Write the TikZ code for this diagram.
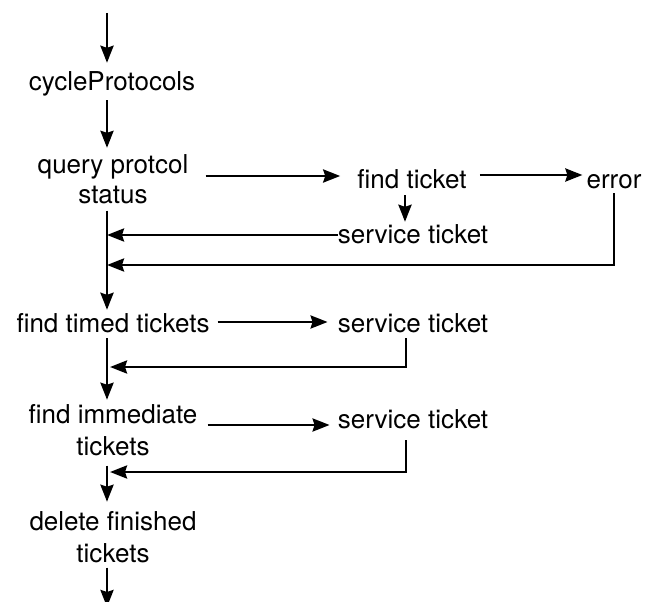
\documentclass[tikz,border=0pt]{standalone}
\usepackage{fontspec}
\setmainfont{TeX Gyre Heros}
\usetikzlibrary{arrows.meta}
\begin{document}
\begin{tikzpicture}[x=1pt,y=-1pt,
  lbl/.style={font=\fontsize{26}{32}\selectfont, inner sep=0pt, text height=19pt, text depth=5pt},
  mlbl/.style={font=\fontsize{26}{32}\selectfont, inner sep=0pt, align=center, anchor=base},
  link/.style={line width=2.8pt, line join=miter},
  arr/.style={link, -{Stealth[length=17pt,width=13pt,inset=2pt]}}]
\useasboundingbox (0,0) rectangle (646,602);

% free ends of the main column
\coordinate (in) at (107,13);
\coordinate (out) at (107,607);

% labels (single-line ones centred 7pt above their baseline,
% two-line ones placed at the baseline of their last line)
\node[lbl]  (cyc) at (112,84) {cycleProtocols};
\node[mlbl] (qs)  at (113,203) {query protcol\\[-2pt]status};
\node[lbl]  (ft)  at (412,181) {find ticket};
\node[lbl]  (err) at (614,181) {error};
\node[lbl]  (st1) at (413,236) {service ticket};
\node[lbl]  (ftt) at (113,325) {find timed tickets};
\node[lbl]  (st2) at (413,325) {service ticket};
\node[mlbl] (fit) at (113,455) {find immediate\\tickets};
\node[lbl]  (st3) at (413,421) {service ticket};
\node[mlbl] (dft) at (113,562) {delete finished\\tickets};

% main column
\draw[arr, shorten >=9pt] (in) -- (in |- cyc.north);
\draw[arr, shorten <=4pt, shorten >=6pt] (cyc.south -| in) -- (in |- qs.north);
\draw[arr, shorten <=7pt, shorten >=3pt] (qs.south -| in) -- (in |- ftt.north);
\draw[arr, shorten <=1pt, shorten >=4pt] (ftt.south -| in) -- (in |- fit.north);
\draw[arr, shorten <=10pt, shorten >=9pt] (fit.south -| in) -- (in |- dft.north);
\draw[arr, shorten <=5pt] (dft.south -| in) -- (out);

% protocol query branch
\draw[arr, shorten <=17pt, shorten >=17pt] (qs.east |- 0,176) -- (ft.west |- 0,176);
\draw[arr, shorten <=13pt, shorten >=4pt] (ft.east |- 0,175) -- (err.west |- 0,175);
\draw[arr, shorten <=2pt, shorten >=2pt] (ft.south -| 405,0) -- (st1.north -| 405,0);
\draw[arr] (st1.west |- 0,235) -- (in |- 0,235);
\draw[arr] (err.south) -- (err.south |- 0,265) -- (in |- 0,265);

% timed tickets
\draw[arr, shorten <=8pt, shorten >=10pt] (ftt.east |- 0,322) -- (st2.west |- 0,322);
\draw[arr, shorten <=1pt] (st2.south -| 406,0) -- (406,367) -- (110,367);

% immediate tickets
\draw[arr, shorten <=10pt, shorten >=8pt] (fit.east |- 0,425) -- (st3.west |- 0,425);
\draw[arr, shorten <=7pt] (st3.south -| 406,0) -- (406,472) -- (110,472);
\end{tikzpicture}
\end{document}
